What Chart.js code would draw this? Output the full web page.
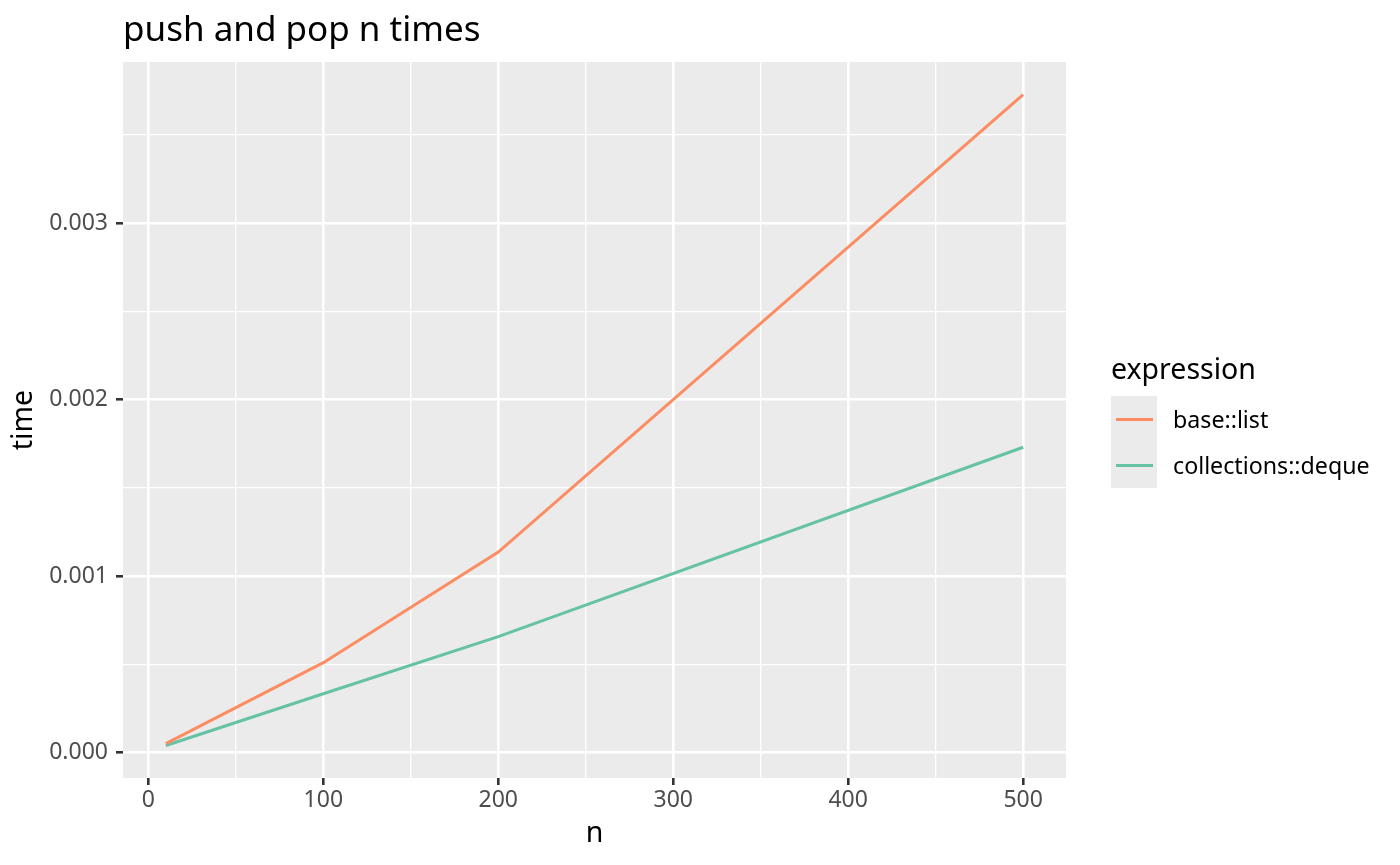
<!DOCTYPE html>
<html>
<head>
<meta charset="utf-8">
<script src="https://cdn.jsdelivr.net/npm/chart.js@4.4.1/dist/chart.umd.min.js"></script>
<style>
  body { margin: 0; background: #ffffff; font-family: "Noto Sans", "Open Sans", sans-serif; }
  #wrap { position: relative; width: 1400px; height: 865px; }
  #title { position: absolute; left: 123px; top: 5px; font-size: 35px; line-height: 46px; color: #000; white-space: nowrap; }
  #legend { position: absolute; left: 1111px; top: 0; }
  #legend .ltitle { position: absolute; left: 0; top: 349px; font-size: 28.5px; line-height: 38px; white-space: nowrap; color: #000; }
  #legend .row { position: absolute; left: 0; width: 300px; height: 46px; }
  #legend .key { position: absolute; left: 0; top: 0; width: 46px; height: 46px; background: #ebebeb; }
  #legend .key span { position: absolute; left: 5px; top: 21.5px; width: 37px; height: 3px; }
  #legend .lab { position: absolute; left: 62px; top: 0; font-size: 23.2px; line-height: 46px; white-space: nowrap; color: #000; }
</style>
</head>
<body>
<div id="wrap">
  <canvas id="myChart" width="1400" height="865"></canvas>
  <div id="title">push and pop n times</div>
  <div id="legend"></div>
</div>
<script>
// benchmark results
const nValues = [10, 100, 200, 500];
const listTimes = [0.000051, 0.000510, 0.001136, 0.003728];
const dequeTimes = [0.000041, 0.000334, 0.000657, 0.001730];
const seriesNames = ["base::list", "collections::deque"];
const seriesColors = ["#FC8D62", "#66C2A5"];

const xMajor = [0, 100, 200, 300, 400, 500];
const xMinor = [50, 150, 250, 350, 450];
const yMajor = [0, 0.001, 0.002, 0.003];
const yMinor = [0.0005, 0.0015, 0.0025, 0.0035];

// ggplot style 5% expansion
function expand(vals) {
  var lo = Math.min.apply(null, vals), hi = Math.max.apply(null, vals);
  var pad = (hi - lo) * 0.05;
  return [lo - pad, hi + pad];
}
var xr = expand(nValues);
var yr = expand(listTimes.concat(dequeTimes));

function pts(ys) {
  return nValues.map(function (n, i) { return { x: n, y: ys[i] }; });
}

function gridFor(major) {
  return {
    color: '#ffffff',
    lineWidth: function (c) { return major.indexOf(c.tick && c.tick.value) >= 0 ? 2.6 : 1.3; },
    tickColor: function (c) { return major.indexOf(c.tick && c.tick.value) >= 0 ? '#333333' : 'rgba(0,0,0,0)'; },
    tickWidth: 2.6,
    tickLength: 7,
    drawTicks: true
  };
}

const panelBg = {
  id: 'panelBg',
  beforeDraw: function (chart) {
    var a = chart.chartArea, c = chart.ctx;
    c.save();
    c.fillStyle = '#ebebeb';
    c.fillRect(a.left, a.top, a.right - a.left, a.bottom - a.top);
    c.restore();
  }
};

var ctx = document.getElementById('myChart').getContext('2d');
var chart = new Chart(ctx, {
  type: 'line',
  data: {
    datasets: [{
      label: seriesNames[0],
      data: pts(listTimes),
      borderColor: seriesColors[0],
      backgroundColor: seriesColors[0],
      borderWidth: 3,
      pointRadius: 0,
      tension: 0
    }, {
      label: seriesNames[1],
      data: pts(dequeTimes),
      borderColor: seriesColors[1],
      backgroundColor: seriesColors[1],
      borderWidth: 3,
      pointRadius: 0,
      tension: 0
    }]
  },
  options: {
    responsive: false,
    animation: false,
    layout: { padding: { top: 62, right: 334, bottom: 0, left: 0 } },
    plugins: {
      legend: { display: false },
      tooltip: { enabled: false }
    },
    scales: {
      x: {
        type: 'linear',
        min: xr[0],
        max: xr[1],
        afterBuildTicks: function (axis) {
          axis.ticks = xMajor.concat(xMinor).sort(function (a, b) { return a - b; }).map(function (v) { return { value: v }; });
        },
        afterFit: function (axis) { axis.height = 87; },
        border: { display: false },
        grid: gridFor(xMajor),
        ticks: {
          autoSkip: false,
          maxRotation: 0,
          padding: 2,
          color: '#4d4d4d',
          font: { family: 'Noto Sans', size: 23 },
          callback: function (v) { return xMajor.indexOf(v) >= 0 ? String(v) : ''; }
        },
        title: {
          display: true,
          text: 'n',
          color: '#000000',
          font: { family: 'Noto Sans', size: 28.5 },
          padding: { top: 0, bottom: 14 }
        }
      },
      y: {
        type: 'linear',
        min: yr[0],
        max: yr[1],
        afterBuildTicks: function (axis) {
          axis.ticks = yMajor.concat(yMinor).sort(function (a, b) { return a - b; }).map(function (v) { return { value: v }; });
        },
        afterFit: function (axis) { axis.width = 123; },
        border: { display: false },
        grid: gridFor(yMajor),
        ticks: {
          autoSkip: false,
          padding: 8,
          color: '#4d4d4d',
          font: { family: 'Noto Sans', size: 23 },
          callback: function (v) { return yMajor.indexOf(v) >= 0 ? v.toFixed(3) : ''; }
        },
        title: {
          display: true,
          text: 'time',
          color: '#000000',
          font: { family: 'Noto Sans', size: 28.5 },
          padding: { top: 7, bottom: 0 }
        }
      }
    }
  },
  plugins: [panelBg]
});

// legend built from the chart's datasets
var leg = document.getElementById('legend');
var t = document.createElement('div');
t.className = 'ltitle';
t.textContent = 'expression';
leg.appendChild(t);
chart.data.datasets.forEach(function (ds, i) {
  var row = document.createElement('div');
  row.className = 'row';
  row.style.top = (396 + i * 46) + 'px';
  var key = document.createElement('div');
  key.className = 'key';
  var ln = document.createElement('span');
  ln.style.background = ds.borderColor;
  key.appendChild(ln);
  var lab = document.createElement('div');
  lab.className = 'lab';
  lab.textContent = ds.label;
  row.appendChild(key);
  row.appendChild(lab);
  leg.appendChild(row);
});
</script>
</body>
</html>
